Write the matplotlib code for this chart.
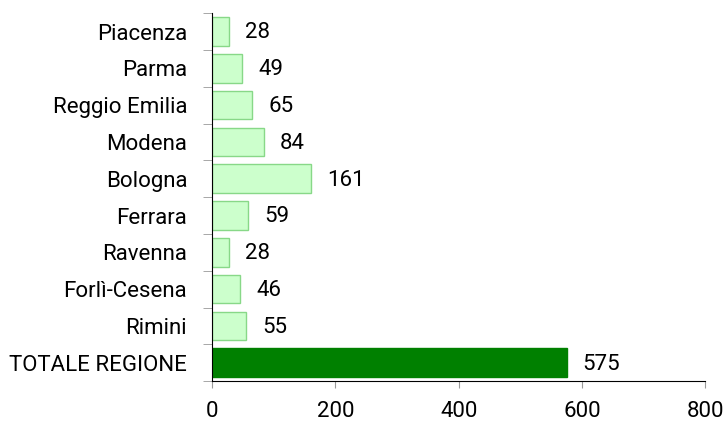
import numpy as np
import matplotlib.pyplot as plt
from matplotlib.ticker import FixedLocator

# Dati per provincia
province = ["Piacenza", "Parma", "Reggio Emilia", "Modena", "Bologna",
            "Ferrara", "Ravenna", "Forlì-Cesena", "Rimini", "TOTALE REGIONE"]
valori = [28, 49, 65, 84, 161, 59, 28, 46, 55, 575]

plt.rcParams['font.family'] = ['Roboto', 'DejaVu Sans']

fig = plt.figure(figsize=(7.24, 4.23), dpi=100)
ax = fig.add_axes([0.293, 0.099, 0.681, 0.870])

y = np.arange(len(province))
colori = ['#CCFFCC'] * (len(province) - 1) + ['#008000']
bordi = ['#88D888'] * (len(province) - 1) + ['#008000']
ax.barh(y, valori, height=0.78, color=colori, edgecolor=bordi, linewidth=1)

for yi, v in zip(y, valori):
    ax.annotate(str(v), (v, yi), xytext=(11.5, -1), textcoords='offset points',
                va='center', ha='left', fontsize=16, color='black')

ax.set_ylim(len(province) - 0.5, -0.5)
ax.set_xlim(0, 800)
ax.set_xticks([0, 200, 400, 600, 800])
ax.set_yticks(y)
ax.set_yticklabels(province, fontsize=16, color='black')
ax.yaxis.set_minor_locator(FixedLocator(np.arange(-0.5, len(province), 1)))
ax.tick_params(axis='y', which='major', length=0, pad=18)
ax.tick_params(axis='y', which='minor', length=6.5, color='#999999')
ax.tick_params(axis='x', length=5, color='#999999', labelsize=16, pad=9,
               labelcolor='black')

for s in ['top', 'right']:
    ax.spines[s].set_visible(False)

plt.savefig('out.png')
